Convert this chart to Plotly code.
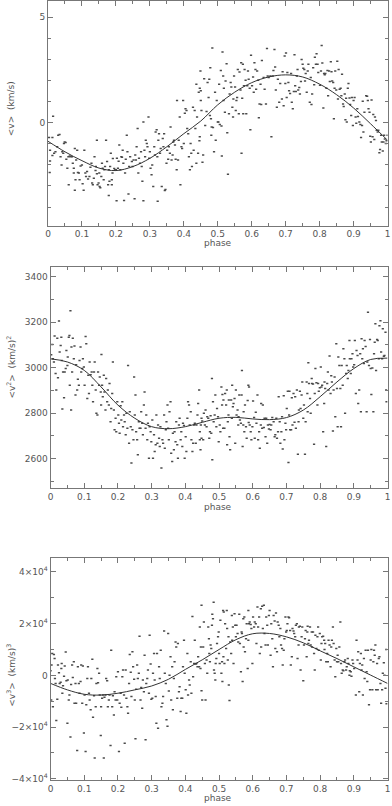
import plotly.graph_objects as go
from plotly.subplots import make_subplots

# ── Theme ────────────────────────────────────────────────────────────────
_FONT = "DejaVu Sans"
_TEXT = "#555555"
_AXIS = "#777777"
_DOT = "#4a4a4a"
_CURVE = "#333333"

# ── Data ─────────────────────────────────────────────────────────────────
phase_grid = [0.0, 0.05, 0.1, 0.15, 0.2, 0.25, 0.3, 0.35, 0.4, 0.45, 0.5,
              0.55, 0.6, 0.65, 0.7, 0.75, 0.8, 0.85, 0.9, 0.95, 1.0]

v_model = [-0.88, -1.38, -1.80, -2.15, -2.27, -2.08, -1.69, -1.14, -0.52, 0.08, 0.85,
           1.45, 1.90, 2.17, 2.27, 2.17, 1.83, 1.33, 0.70, -0.05, -0.83]
v2_model = [3039, 3025, 2988, 2915, 2835, 2777, 2740, 2731, 2740, 2759, 2777,
            2781, 2774, 2771, 2780, 2813, 2872, 2937, 2996, 3036, 3042]
v3_model = [-3100, -5600, -7300, -7600, -6900, -5600, -4100, -1500, 2300, 6000, 10000,
            13800, 16100, 16200, 14900, 12600, 9500, 6500, 3300, 100, -3100]

# (phase, <v>) measurements
v_points = [
    (0.003, -0.70), (0.013, -0.70), (0.015, 0.31), (0.006, -1.30), (0.006, -1.81), (0.005, -2.36), (0.013, -1.55), (0.018, -1.45), (0.022, -1.38), (0.027, -1.14),
    (0.030, -0.59), (0.034, -0.56), (0.037, -1.61), (0.040, -2.00), (0.042, -1.38), (0.045, -1.45), (0.047, -0.98), (0.049, -0.91), (0.052, -0.94), (0.054, -1.73),
    (0.057, -2.16), (0.060, -1.61), (0.061, -2.94), (0.064, -1.58), (0.066, -1.61), (0.071, -1.61), (0.073, -1.92), (0.076, -2.16), (0.076, -2.39), (0.079, -1.22),
    (0.079, -3.20), (0.081, -2.70), (0.083, -1.77), (0.086, -1.30), (0.088, -2.36), (0.091, -2.39), (0.093, -2.70), (0.096, -2.05), (0.100, -2.00), (0.102, -2.89),
    (0.105, -3.20), (0.107, -1.30), (0.110, -2.39), (0.112, -2.55), (0.115, -2.31), (0.118, -2.67), (0.122, -2.55), (0.125, -2.11), (0.128, -1.92), (0.130, -2.86),
    (0.132, -2.94), (0.135, -2.63), (0.137, -1.61), (0.140, -2.27), (0.141, -2.08), (0.144, -0.83), (0.144, -2.42), (0.146, -2.94), (0.149, -2.86), (0.151, -2.39),
    (0.152, -3.02), (0.154, -3.09), (0.157, -2.55), (0.159, -1.92), (0.161, -2.16), (0.164, -2.70), (0.166, -2.23), (0.168, -2.08), (0.171, -0.83), (0.174, -1.84),
    (0.177, -2.94), (0.179, -2.23), (0.179, -3.45), (0.181, -2.78), (0.183, -2.08), (0.185, -1.45), (0.188, -2.70), (0.188, -2.94), (0.190, -2.39), (0.191, -1.70),
    (0.195, -2.17), (0.198, -2.23), (0.200, -2.23), (0.202, -3.70), (0.203, -1.69), (0.206, -2.16), (0.208, -1.83), (0.210, -1.06), (0.213, -2.23), (0.216, -1.61),
    (0.218, -1.64), (0.220, -1.30), (0.222, -1.92), (0.224, -3.69), (0.227, -2.39), (0.229, -1.73), (0.232, -0.59), (0.234, -1.38), (0.237, -3.38), (0.239, -2.08),
    (0.242, -1.61), (0.247, -1.84), (0.249, -2.08), (0.252, -1.77), (0.255, -3.61), (0.257, -1.53), (0.259, -1.77), (0.261, -1.14), (0.264, -0.28), (0.266, -2.39),
    (0.268, -1.69), (0.271, -1.92), (0.274, -1.38), (0.276, -2.08), (0.278, -2.78), (0.281, -3.70), (0.281, 0.03), (0.284, -1.30), (0.286, -1.61), (0.288, -0.83),
    (0.291, -0.98), (0.293, -1.14), (0.296, 0.27), (0.298, -1.69), (0.300, -1.38), (0.302, -2.16), (0.305, -2.47), (0.307, -2.00), (0.310, -3.02), (0.313, -1.14),
    (0.315, -1.53), (0.317, -0.44), (0.320, -0.33), (0.322, -1.61), (0.323, -3.72), (0.325, -0.83), (0.327, -0.52), (0.330, -1.45), (0.332, -1.22), (0.335, -3.02),
    (0.338, -0.75), (0.340, -1.14), (0.342, -0.52), (0.344, -3.22), (0.346, -3.17), (0.349, -1.92), (0.351, -1.30), (0.354, -1.73), (0.356, -1.14), (0.359, -1.45),
    (0.361, -0.20), (0.364, -1.77), (0.367, -1.53), (0.369, -0.91), (0.371, -0.83), (0.374, -1.06), (0.376, -1.73), (0.379, -2.23), (0.380, 1.05), (0.383, -1.77),
    (0.385, -0.83), (0.388, 0.27), (0.390, -2.94), (0.393, -1.14), (0.395, -1.22), (0.398, 1.05), (0.400, -0.98), (0.403, 0.45), (0.405, 0.66), (0.408, 0.58),
    (0.410, -0.28), (0.413, -0.52), (0.415, -1.61), (0.418, -2.23), (0.420, -0.98), (0.422, -1.45), (0.424, -2.08), (0.427, 0.73), (0.429, -1.30), (0.432, 0.58),
    (0.434, -0.28), (0.437, -1.92), (0.437, 1.83), (0.439, 0.27), (0.442, -1.45), (0.444, 1.44), (0.447, -0.67), (0.449, 2.45), (0.450, 1.52),
    (0.446, -0.86), (0.447, 1.64), (0.450, 1.05), (0.452, 0.58), (0.455, -1.88), (0.457, -1.53), (0.460, 2.08), (0.463, -0.13), (0.467, 0.53), (0.470, 1.91),
    (0.473, 1.20), (0.475, 2.06), (0.477, 0.34), (0.478, 2.61), (0.480, 0.19), (0.481, -0.59), (0.482, -0.20), (0.484, 3.55), (0.486, -0.23), (0.489, -1.38),
    (0.492, 1.44), (0.494, -0.83), (0.497, 1.05), (0.500, 0.03), (0.502, 0.03), (0.504, 1.83), (0.506, -0.08), (0.509, 2.48), (0.511, -0.16), (0.512, -1.58),
    (0.514, 3.36), (0.516, 2.22), (0.517, 1.05), (0.518, 1.64), (0.521, 0.50), (0.523, 1.98), (0.526, 2.80), (0.528, -0.48), (0.530, -2.44), (0.533, 0.42),
    (0.535, 1.36), (0.538, 1.91), (0.540, 1.70), (0.543, 0.73), (0.545, 0.27), (0.546, 1.13), (0.548, 2.22), (0.551, 1.70), (0.553, 0.58), (0.555, 1.05),
    (0.557, 1.20), (0.559, 2.53), (0.562, 0.42), (0.564, 2.41), (0.567, 1.55), (0.569, 2.84), (0.570, -1.45), (0.572, 1.16), (0.574, 2.77), (0.575, 0.42),
    (0.577, 1.75), (0.579, 2.53), (0.582, 2.02), (0.584, 0.42), (0.587, 1.75), (0.589, 2.45), (0.591, 2.06), (0.594, 1.64), (0.596, -0.33), (0.598, 3.20),
    (0.601, 1.75), (0.604, 2.17), (0.606, 1.44), (0.608, 2.84), (0.611, 2.53), (0.613, 1.59), (0.616, 2.45), (0.619, 2.02), (0.621, 0.23), (0.623, 0.89),
    (0.626, 1.83), (0.628, 0.86), (0.630, 2.95), (0.635, 2.14), (0.638, 1.59), (0.642, 0.89), (0.645, 3.52), (0.647, 2.22), (0.650, 2.14), (0.655, 2.22),
    (0.658, -0.67), (0.662, 2.22), (0.664, 2.48), (0.667, 3.47), (0.669, 2.64), (0.671, 1.55), (0.674, 0.73), (0.677, 2.06), (0.681, 0.97), (0.684, 1.86),
    (0.689, 1.13), (0.691, 2.42), (0.694, 0.81), (0.697, 3.16), (0.699, 1.86), (0.701, 3.31), (0.703, 1.20), (0.705, 2.38), (0.708, 1.91), (0.710, 1.52),
    (0.713, 1.39), (0.716, 2.33), (0.718, 0.97), (0.721, 0.66), (0.724, 1.48), (0.726, 3.23), (0.728, 1.75), (0.730, 1.48), (0.733, 2.22), (0.735, 2.53),
    (0.737, 1.55), (0.740, 1.67), (0.742, 1.36), (0.745, 1.95), (0.747, 3.00), (0.750, 2.77), (0.752, 2.58), (0.755, 2.53), (0.757, 1.98), (0.759, 2.33),
    (0.762, 1.44), (0.765, 2.45), (0.767, 2.77), (0.771, 0.97), (0.774, 2.14), (0.776, 0.86), (0.778, 1.36), (0.781, 2.61), (0.784, 1.80), (0.786, 3.11),
    (0.789, 2.77), (0.791, 3.27), (0.794, 2.77), (0.796, 2.38), (0.801, 1.78), (0.804, 2.45), (0.806, 3.66), (0.808, 2.83), (0.811, 0.70), (0.813, 2.33),
    (0.815, 2.27), (0.817, 2.33), (0.820, 1.64), (0.823, 2.48), (0.825, 1.28), (0.828, 2.45), (0.830, 1.95), (0.833, 2.89), (0.835, 2.42), (0.837, 1.98),
    (0.840, 1.91), (0.842, 0.19), (0.844, 1.64), (0.846, 2.45), (0.849, 1.55), (0.852, 2.92), (0.854, 1.13), (0.856, 2.53), (0.859, 1.59), (0.862, 1.63),
    (0.864, 1.28), (0.866, 2.30), (0.869, 0.89), (0.871, 0.77), (0.874, 1.36), (0.876, 0.14), (0.878, 1.16), (0.880, 0.03), (0.883, 1.64), (0.885, 1.86),
    (0.888, 1.17), (0.890, 0.86), (0.893, 0.34), (0.895, 1.20), (0.898, -0.13), (0.900, 1.05), (0.903, 1.20), (0.906, 0.27), (0.908, -0.02), (0.911, 0.66),
    (0.913, 0.30), (0.917, 0.03), (0.920, -0.08), (0.922, -0.70), (0.925, -0.13), (0.927, 1.02), (0.929, -0.44), (0.932, 0.50), (0.937, 1.28), (0.940, 1.25),
    (0.942, 1.05), (0.944, 0.66), (0.947, 0.50), (0.949, -0.64), (0.951, -0.91), (0.953, 1.08), (0.956, -0.67), (0.958, 0.39), (0.961, -0.80), (0.963, 0.27),
    (0.966, 0.11), (0.968, -0.36), (0.971, -0.44), (0.973, -0.36), (0.976, -1.42), (0.978, -1.27), (0.981, -0.59), (0.983, -0.91), (0.986, -1.34), (0.988, -0.91),
    (0.990, -0.59), (0.992, -0.77), (0.995, -0.98), (0.997, -0.86), (1.000, -0.59),
]

# (phase, <v^2>) measurements
v2_points = [
    (0.002, 3057), (0.005, 3102), (0.007, 3039), (0.010, 3025), (0.012, 3139), (0.015, 2974), (0.017, 2901), (0.020, 3130), (0.022, 2955), (0.025, 3206),
    (0.027, 3069), (0.030, 3098), (0.032, 3134), (0.033, 3032), (0.035, 2818), (0.037, 2981), (0.040, 2867), (0.042, 2981), (0.045, 2996), (0.047, 3076),
    (0.050, 3010), (0.051, 3047), (0.054, 3134), (0.056, 3142), (0.057, 2923), (0.059, 3251), (0.061, 2813), (0.062, 3091), (0.064, 2981), (0.066, 3130),
    (0.069, 3039), (0.071, 3095), (0.074, 2879), (0.076, 3013), (0.079, 2901), (0.081, 2949), (0.084, 2923), (0.086, 3032), (0.089, 3091), (0.091, 2981),
    (0.094, 2996), (0.096, 3039), (0.099, 3003), (0.101, 2923), (0.104, 3137), (0.106, 3105), (0.109, 2864), (0.112, 2966), (0.114, 2886), (0.116, 3025),
    (0.119, 2969), (0.122, 2981), (0.124, 2923), (0.126, 2850), (0.129, 2981), (0.131, 3025), (0.134, 2901), (0.136, 2799), (0.139, 2791), (0.141, 2981),
    (0.144, 2923), (0.146, 2959), (0.149, 2893), (0.150, 2835), (0.151, 3058), (0.153, 2923), (0.155, 2872), (0.158, 2966), (0.160, 2893), (0.163, 2813),
    (0.165, 2952), (0.168, 2850), (0.170, 2901), (0.173, 2835), (0.175, 2930), (0.178, 2762), (0.180, 2820), (0.183, 2886), (0.185, 3025), (0.188, 2813),
    (0.190, 2726), (0.193, 2777), (0.195, 2718), (0.198, 2850), (0.201, 2791), (0.203, 2755), (0.205, 2711), (0.208, 2832), (0.210, 2769), (0.213, 2850),
    (0.215, 2740), (0.218, 2791), (0.220, 2762), (0.223, 2704), (0.225, 2799), (0.228, 2733), (0.230, 3010), (0.233, 2667), (0.235, 2806), (0.238, 2740),
    (0.240, 2580), (0.243, 2726), (0.246, 2682), (0.248, 2959), (0.250, 2791), (0.252, 2879), (0.254, 2718), (0.257, 2682), (0.259, 2616), (0.262, 2762),
    (0.264, 2733), (0.267, 2733), (0.269, 2806), (0.272, 2755), (0.274, 2704), (0.277, 2835), (0.279, 2893), (0.282, 2733), (0.284, 2791), (0.287, 2682),
    (0.289, 2755), (0.292, 2601), (0.294, 2740), (0.297, 2718), (0.299, 2674), (0.302, 2769), (0.304, 2601), (0.307, 2704), (0.309, 2631), (0.312, 2660),
    (0.314, 2791), (0.317, 2667), (0.319, 2747), (0.322, 2689), (0.324, 2653), (0.326, 2740), (0.329, 2558), (0.332, 2682), (0.334, 2667), (0.337, 2791),
    (0.339, 2645), (0.342, 2726), (0.344, 2762), (0.347, 2835), (0.349, 2733), (0.351, 2682), (0.353, 2806), (0.356, 2850), (0.358, 2623), (0.361, 2587),
    (0.363, 2711), (0.366, 2638), (0.368, 2718), (0.371, 2674), (0.373, 2762), (0.376, 2660), (0.378, 2601), (0.381, 2747), (0.383, 2777), (0.386, 2682),
    (0.388, 2718), (0.391, 2653), (0.393, 2755), (0.396, 2745), (0.398, 2601), (0.401, 2696), (0.403, 2631), (0.406, 2777), (0.408, 2850), (0.411, 2835),
    (0.413, 2747), (0.416, 2806), (0.418, 2682), (0.421, 2631), (0.423, 2667), (0.426, 2747), (0.428, 2755), (0.431, 2667), (0.433, 2747), (0.436, 2791),
    (0.438, 2842), (0.441, 2901), (0.443, 2682), (0.446, 2747), (0.448, 2777),
    (0.443, 2718), (0.445, 2638), (0.448, 2689), (0.450, 2765), (0.453, 2682), (0.455, 2799), (0.458, 2747), (0.460, 2813), (0.463, 2740), (0.465, 2784),
    (0.468, 2777), (0.471, 2689), (0.473, 2718), (0.475, 2788), (0.477, 2711), (0.479, 2952), (0.480, 2594), (0.482, 2850), (0.484, 2762), (0.487, 2791),
    (0.489, 2879), (0.492, 2740), (0.494, 2820), (0.497, 2784), (0.499, 2674), (0.502, 2747), (0.504, 2718), (0.507, 2915), (0.509, 2835), (0.510, 2882),
    (0.512, 2733), (0.513, 2857), (0.516, 2733), (0.518, 2886), (0.521, 2835), (0.523, 2901), (0.524, 2660), (0.526, 2762), (0.528, 2791), (0.529, 2857),
    (0.531, 2696), (0.533, 2638), (0.536, 2857), (0.538, 2777), (0.539, 2923), (0.541, 2828), (0.543, 2842), (0.546, 2864), (0.548, 2667), (0.550, 2901),
    (0.552, 2791), (0.555, 2813), (0.557, 2747), (0.558, 2784), (0.560, 2879), (0.562, 2769), (0.565, 2755), (0.567, 2879), (0.568, 2988), (0.570, 2653),
    (0.572, 2747), (0.573, 2806), (0.575, 2718), (0.577, 2835), (0.580, 2740), (0.582, 2689), (0.585, 2855), (0.587, 2923), (0.588, 2758), (0.589, 2915),
    (0.591, 2747), (0.594, 2718), (0.596, 2682), (0.599, 2740), (0.601, 2853), (0.604, 2780), (0.606, 2689), (0.609, 2803), (0.611, 2755), (0.614, 2879),
    (0.616, 2682), (0.619, 2718), (0.621, 2645), (0.624, 2747), (0.625, 2842), (0.628, 2733), (0.630, 2835), (0.633, 2736), (0.635, 2777), (0.638, 2696),
    (0.640, 2777), (0.643, 2667), (0.645, 2747), (0.648, 2730), (0.650, 2750), (0.653, 2726), (0.655, 2747), (0.658, 2780), (0.662, 2762), (0.665, 2696),
    (0.667, 2704), (0.670, 2777), (0.672, 2689), (0.675, 2718), (0.677, 2872), (0.680, 2762), (0.682, 2667), (0.685, 2718), (0.687, 2784), (0.689, 2642),
    (0.692, 2876), (0.694, 2682), (0.697, 2755), (0.699, 2726), (0.701, 2820), (0.704, 2896), (0.706, 2582), (0.708, 2791), (0.709, 2896), (0.711, 2726),
    (0.714, 2726), (0.716, 2867), (0.718, 2747), (0.721, 2886), (0.724, 2759), (0.726, 2872), (0.728, 2733), (0.731, 2901), (0.734, 2619), (0.736, 2762),
    (0.737, 2813), (0.740, 2896), (0.742, 2820), (0.745, 2879), (0.747, 2937), (0.750, 2777), (0.752, 2835), (0.755, 2619), (0.757, 2762), (0.760, 2937),
    (0.762, 2886), (0.763, 2806), (0.765, 3022), (0.767, 2930), (0.770, 2864), (0.772, 2799), (0.775, 2952), (0.776, 2930), (0.779, 2928), (0.782, 2663),
    (0.784, 2886), (0.786, 2996), (0.789, 2934), (0.792, 2835), (0.794, 2930), (0.796, 2896), (0.799, 2911), (0.802, 3003), (0.804, 2915), (0.806, 2923),
    (0.809, 2718), (0.812, 2842), (0.813, 2937), (0.815, 2908), (0.818, 2653), (0.821, 2930), (0.823, 2981), (0.825, 2901), (0.828, 3051), (0.831, 2886),
    (0.833, 2964), (0.835, 2937), (0.838, 2721), (0.840, 2901), (0.843, 2959), (0.845, 2784), (0.848, 3105), (0.850, 2908), (0.852, 2740), (0.854, 3047),
    (0.857, 3010), (0.860, 2908), (0.862, 2740), (0.864, 3010), (0.867, 2923), (0.869, 3083), (0.872, 3039), (0.874, 2799), (0.877, 2974), (0.879, 3010),
    (0.882, 2952), (0.884, 2988), (0.887, 3120), (0.888, 3039), (0.891, 2974), (0.893, 3039), (0.896, 3061), (0.898, 3003), (0.901, 3013), (0.903, 3120),
    (0.906, 2886), (0.908, 3076), (0.911, 3054), (0.913, 2842), (0.916, 2901), (0.919, 3061), (0.921, 2806), (0.923, 3127), (0.925, 3039), (0.927, 3083),
    (0.930, 3018), (0.932, 3120), (0.935, 3093), (0.938, 2806), (0.940, 3025), (0.942, 3244), (0.945, 3010), (0.948, 3124), (0.950, 2996), (0.952, 2882),
    (0.955, 2999), (0.958, 2806), (0.960, 3061), (0.962, 3112), (0.964, 3193), (0.966, 2988), (0.969, 3124), (0.971, 3120), (0.974, 3039), (0.976, 3185),
    (0.979, 3207), (0.981, 3069), (0.984, 3039), (0.986, 3171), (0.989, 3050), (0.991, 3054), (0.994, 3156), (0.996, 2901), (0.997, 2850),
]

# (phase, <v^3>) measurements
v3_points = [
    (0.000, 1800), (0.002, -9500), (0.003, 4000), (0.005, 8500), (0.007, -12100), (0.010, 8100), (0.012, 6500), (0.013, -1200), (0.015, -3100), (0.017, -17400),
    (0.020, -9200), (0.022, 4000), (0.025, 1000), (0.027, -3100), (0.030, -2700), (0.032, 2700), (0.033, 4600), (0.035, -6900), (0.037, -4000), (0.040, -300),
    (0.042, 3600), (0.045, 9000), (0.047, -2100), (0.050, -18500), (0.051, -1800), (0.054, -9500), (0.056, -7600), (0.059, -23800), (0.061, -3500), (0.064, 4000),
    (0.066, -800), (0.069, 5300), (0.071, -10800), (0.074, -3100), (0.076, -10800), (0.079, -29000), (0.081, 3300), (0.084, -3100), (0.086, -6900), (0.089, -2400),
    (0.091, 4000), (0.094, -10800), (0.096, 3600), (0.099, -22300), (0.101, -7600), (0.104, -29400), (0.106, -11400), (0.109, -1200), (0.111, 3300), (0.114, -6900),
    (0.116, -9500), (0.119, -13300), (0.121, -1200), (0.124, 6200), (0.126, -16200), (0.129, -7900), (0.131, -31900), (0.134, -12100), (0.136, -3100), (0.139, 2700),
    (0.141, -2800), (0.144, 800), (0.146, -7600), (0.149, -23200), (0.150, -12100), (0.153, -8800), (0.155, -7600), (0.158, -31900), (0.160, -8500), (0.163, -7600),
    (0.165, -1200), (0.168, -2100), (0.170, -12100), (0.173, -9500), (0.175, -7600), (0.178, -27100), (0.180, 9700), (0.183, -12100), (0.185, -7900), (0.188, -15300),
    (0.190, -6300), (0.193, -9500), (0.195, -500), (0.198, -9500), (0.200, 1400), (0.203, -29400), (0.205, -10800), (0.208, -6900), (0.210, -12300), (0.213, -500),
    (0.215, 2100), (0.218, -7600), (0.220, -26200), (0.223, 2100), (0.225, -8800), (0.228, -12100), (0.230, -14600), (0.233, -3100), (0.235, 8100), (0.238, 1200),
    (0.240, -8200), (0.243, 9100), (0.245, 3300), (0.248, -1500), (0.250, -9500), (0.252, -24500), (0.254, -5400), (0.257, 4000), (0.259, -1200), (0.262, 800),
    (0.264, 15100), (0.267, -9500), (0.269, -4700), (0.272, -12700), (0.274, -1800), (0.277, -6300), (0.279, 7800), (0.282, -24900), (0.284, -3100), (0.287, -1200),
    (0.289, 2100), (0.292, -6900), (0.294, 15500), (0.297, 4400), (0.299, -9200), (0.302, -8800), (0.304, 800), (0.307, 8500), (0.309, -1800), (0.312, -8200),
    (0.314, -18500), (0.316, 8500), (0.319, -20400), (0.322, 3300), (0.324, -1200), (0.327, 9700), (0.329, -12100), (0.332, -10800), (0.334, -8200), (0.337, 17200),
    (0.339, 800), (0.342, -3100), (0.344, -17200), (0.347, -19700), (0.349, 16200), (0.351, -6000), (0.353, 100), (0.356, 7200), (0.358, -9500), (0.361, 3300),
    (0.363, -13300), (0.366, -1200), (0.368, 5300), (0.371, 12900), (0.373, 11000), (0.376, -8800), (0.378, 12300), (0.381, -6300), (0.383, -4400), (0.386, -14000),
    (0.388, -8800), (0.391, -8800), (0.393, 3300), (0.396, 13600), (0.398, 800), (0.401, -5600), (0.403, -14600), (0.406, 8500), (0.408, -7600), (0.411, -1800),
    (0.413, -3700), (0.416, 5300), (0.418, -6900), (0.421, 22800), (0.423, -500), (0.426, 4600), (0.428, 13600), (0.431, 4400), (0.433, 4600), (0.436, 3300),
    (0.438, 7200), (0.441, 3300), (0.443, 18700), (0.446, 11000), (0.448, 27100),
    (0.445, 2700), (0.448, -5900), (0.450, -9500), (0.453, 11000), (0.455, 20600), (0.458, 4600), (0.460, -9500), (0.463, 5900), (0.465, 800), (0.468, 18700),
    (0.470, 14200), (0.471, 8500), (0.473, 5300), (0.475, 11700), (0.477, 10400), (0.479, 19400), (0.480, 23600), (0.482, 21900), (0.484, 28300), (0.485, 2100),
    (0.487, 800), (0.489, -1800), (0.490, 4600), (0.492, 6500), (0.494, 12300), (0.497, 14900), (0.499, 16800), (0.500, 8500), (0.502, 4600), (0.504, 21300),
    (0.507, 800), (0.509, 5300), (0.510, -2400), (0.512, 25100), (0.513, 7200), (0.514, 24500), (0.516, 4600), (0.518, 20000), (0.521, 10400), (0.523, 25100),
    (0.524, 18100), (0.526, 5900), (0.528, 14900), (0.529, -3700), (0.531, -9700), (0.533, 12900), (0.536, 8500), (0.538, 23200), (0.539, 13600), (0.541, 18700),
    (0.543, 4600), (0.546, 23800), (0.548, 19400), (0.550, 14900), (0.552, 19400), (0.555, 16200), (0.557, 12900), (0.560, 23600), (0.562, 12300), (0.565, 1400),
    (0.567, 16800), (0.568, 16200), (0.570, -2400), (0.572, 21900), (0.573, 11000), (0.575, 22600), (0.577, 9100), (0.580, 14200), (0.582, 20000), (0.585, 2700),
    (0.587, 13600), (0.587, 25100), (0.589, 20000), (0.591, 20600), (0.594, 19700), (0.596, 18100), (0.599, 4600), (0.601, 22600), (0.604, 18700), (0.606, 20600),
    (0.609, 20000), (0.611, 12300), (0.614, 26400), (0.616, 18700), (0.619, 22600), (0.621, 8500), (0.624, 25800), (0.625, 11000), (0.628, 26700), (0.630, 18100),
    (0.633, 27100), (0.635, 16200), (0.638, 11700), (0.640, 22600), (0.643, 19400), (0.645, 11700), (0.648, 23200), (0.650, 25100), (0.653, 7800), (0.655, 20000),
    (0.658, 14200), (0.660, 3300), (0.662, 23200), (0.665, 21000), (0.667, 10400), (0.669, 24100), (0.672, 9100), (0.674, 20600), (0.677, 19400), (0.679, 14900),
    (0.682, 18100), (0.684, 11700), (0.687, 10400), (0.689, 4000), (0.692, 9700), (0.694, 14200), (0.697, 22600), (0.699, 16800), (0.701, 17400), (0.703, 20000),
    (0.706, 22600), (0.708, 22300), (0.711, 17400), (0.713, 4000), (0.716, 7200), (0.718, 18100), (0.721, 17200), (0.723, 16200), (0.726, 14900), (0.728, 19400),
    (0.731, 20000), (0.733, 6500), (0.736, 11700), (0.737, 18700), (0.740, 19000), (0.742, 2100), (0.745, 14900), (0.747, 18700), (0.750, -2100), (0.752, 11700),
    (0.755, 14200), (0.757, 17400), (0.760, 7200), (0.762, 16800), (0.763, 19000), (0.765, 12300), (0.767, 13600), (0.770, 18700), (0.772, 11700), (0.775, 16800),
    (0.776, 11000), (0.779, 16800), (0.782, 8500), (0.784, 2100), (0.786, 15500), (0.789, 10400), (0.792, 14900), (0.794, 18700), (0.796, 9700), (0.799, 16200),
    (0.802, 5900), (0.804, 12300), (0.806, 14900), (0.809, 15100), (0.812, 13600), (0.813, 10000), (0.815, 12300), (0.818, 5300), (0.821, 8500), (0.823, 5300),
    (0.825, 13600), (0.828, 11700), (0.831, 3300), (0.833, 11000), (0.835, 13600), (0.838, 18700), (0.840, 12300), (0.843, 5900), (0.845, -500), (0.848, 10400),
    (0.850, 5300), (0.852, 7800), (0.854, 5300), (0.857, 11000), (0.860, 20600), (0.862, 4600), (0.864, 800), (0.867, 2100), (0.869, 1800), (0.872, 5300),
    (0.874, 5900), (0.877, 2100), (0.879, 3300), (0.882, 6500), (0.884, 4600), (0.887, 100), (0.888, 1800), (0.891, 1400), (0.893, -300), (0.896, 5900),
    (0.898, 4600), (0.901, 2700), (0.906, -7600), (0.908, 13600), (0.911, 5900), (0.913, 9100), (0.916, -6300), (0.918, 4600), (0.921, 8500), (0.923, 2100),
    (0.925, 4000), (0.927, -7600), (0.930, 6500), (0.932, -1200), (0.935, 9700), (0.938, 1400), (0.940, -2400), (0.942, 9700), (0.945, -11400), (0.948, -5600),
    (0.950, 5900), (0.952, 10000), (0.955, -5600), (0.958, 5300), (0.960, 9700), (0.962, 7800), (0.964, 11700), (0.966, -5600), (0.969, 4600), (0.971, -5600),
    (0.974, 6500), (0.976, 7200), (0.979, -3100), (0.981, -10800), (0.984, -5600), (0.986, 800), (0.989, 4900), (0.991, 100), (0.994, -5000), (0.996, 10000),
    (0.997, -11000),
]

# Tick labels for the <v^3> panel
v3_tickvals = [-40000, -20000, 0, 20000, 40000]
v3_ticktext = ["\u22124\u00d710<sup>4</sup>", "\u22122\u00d710<sup>4</sup>", "0",
               "2\u00d710<sup>4</sup>", "4\u00d710<sup>4</sup>"]

# ── Figure ───────────────────────────────────────────────────────────────
W, H = 392, 806
fig = make_subplots(rows=3, cols=1)

panels = [(v_points, v_model), (v2_points, v2_model), (v3_points, v3_model)]
for row, (pts, model) in enumerate(panels, start=1):
    xs, ys = zip(*pts)
    fig.add_trace(
        go.Scatter(
            x=xs, y=ys, mode="markers",
            marker=dict(symbol="line-ew", size=1.6, line=dict(width=1.5, color=_DOT)),
            showlegend=False, hoverinfo="skip",
        ),
        row=row, col=1,
    )
    fig.add_trace(
        go.Scatter(
            x=phase_grid, y=model, mode="lines",
            line=dict(color=_CURVE, width=1, shape="spline", smoothing=1.0),
            showlegend=False,
        ),
        row=row, col=1,
    )

axis_common = dict(
    showgrid=False, zeroline=False, showline=True, mirror="ticks",
    linecolor=_AXIS, linewidth=1, ticks="inside", tickcolor=_AXIS,
    ticklen=5, tickwidth=1, tickfont=dict(family=_FONT, size=9, color=_TEXT),
    ticklabeloverflow="allow",
)

x_domains = [[45.7 / W, 390.5 / W], [48.3 / W, 390.5 / W], [48.3 / W, 390.5 / W]]
y_domains = [[1 - 226 / H, 1 - 0.5 / H], [1 - 490 / H, 1 - 267.3 / H], [1 - 784 / H, 1 - 560.7 / H]]

for i in range(3):
    fig.update_xaxes(
        axis_common, domain=x_domains[i], range=[0, 1], dtick=0.1, tick0=0,
        minor=dict(ticks="inside", ticklen=3, dtick=0.05, tick0=0, tickcolor=_AXIS),
        row=i + 1, col=1,
    )

fig.update_yaxes(axis_common, domain=y_domains[0], range=[-4.88, 5.75], dtick=5, tick0=0,
                 minor=dict(ticks="inside", ticklen=3, dtick=1, tick0=0, tickcolor=_AXIS),
                 row=1, col=1)
fig.update_yaxes(axis_common, domain=y_domains[1], range=[2470, 3445], dtick=200, tick0=0,
                 minor=dict(ticks="inside", ticklen=3, dtick=100, tick0=0, tickcolor=_AXIS),
                 row=2, col=1)
fig.update_yaxes(axis_common, domain=y_domains[2], range=[-40500, 45300],
                 tickmode="array", tickvals=v3_tickvals, ticktext=v3_ticktext,
                 minor=dict(ticks="inside", ticklen=3, tickmode="linear", dtick=10000, tick0=0,
                            tickcolor=_AXIS),
                 row=3, col=1)

# axis titles as annotations
titles = ["&lt;v&gt;  (km/s)",
          "&lt;v<sup>2</sup>&gt;  (km/s)<sup>2</sup>",
          "&lt;v<sup>3</sup>&gt;  (km/s)<sup>3</sup>"]
title_y = [108, 368, 678]
phase_y = [244, 509, 802]
for i in range(3):
    fig.add_annotation(
        text=titles[i], textangle=-90, showarrow=False,
        xref="paper", yref="paper", x=8 / W, y=1 - title_y[i] / H,
        xanchor="center", yanchor="middle",
        font=dict(family=_FONT, size=9, color=_TEXT),
    )
    fig.add_annotation(
        text="phase", showarrow=False,
        xref="paper", yref="paper", x=218 / W, y=1 - phase_y[i] / H,
        xanchor="center", yanchor="middle",
        font=dict(family=_FONT, size=9, color=_TEXT),
    )

fig.update_layout(
    width=W, height=H,
    margin=dict(l=0, r=0, t=0, b=0),
    paper_bgcolor="white", plot_bgcolor="white",
    font=dict(family=_FONT, size=9, color=_TEXT),
    showlegend=False,
)

# drop the default page margin so the figure sits at the window's corner
fig.write_html(
    "out.html",
    config={"displayModeBar": False},
    post_script="document.body.style.margin='0';document.body.style.overflow='hidden';",
)
